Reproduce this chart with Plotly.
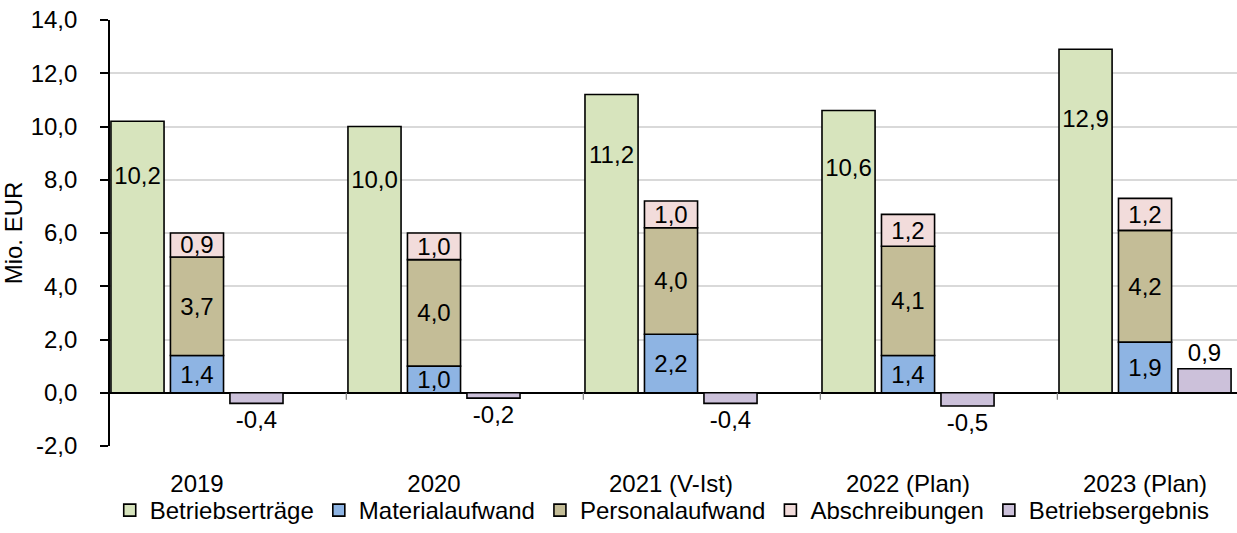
import plotly.graph_objects as go
import numpy as np

categories = ["2019", "2020", "2021 (V-Ist)", "2022 (Plan)", "2023 (Plan)"]
betriebsertraege = [10.2, 10.0, 11.2, 10.6, 12.9]
materialaufwand = [1.4, 1.0, 2.2, 1.4, 1.9]
personalaufwand = [3.7, 4.0, 4.0, 4.1, 4.2]
abschreibungen = [0.9, 1.0, 1.0, 1.2, 1.2]
betriebsergebnis = [-0.4, -0.2, -0.4, -0.5, 0.9]
y_ticks = [-2, 0, 2, 4, 6, 8, 10, 12, 14]


def fmt(v):
    return f"{v:.1f}".replace(".", ",")


FONT = "Liberation Sans, Arial, sans-serif"
FS = 24
idx = np.arange(len(categories))
W = 0.224
OFF_G, OFF_S, OFF_P = -0.363, -0.112, 0.139
LINE = dict(color="black", width=1.6)
XR = [-0.367, 4.388]
YR = [-2, 14]

mat = np.array(materialaufwand)
per = np.array(personalaufwand)

fig = go.Figure()
fig.add_trace(go.Bar(name="Betriebserträge", x=idx, y=betriebsertraege, width=W, offset=OFF_G,
                     marker=dict(color="#D7E4BD", line=LINE), hoverinfo="y"))
fig.add_trace(go.Bar(name="Materialaufwand", x=idx, y=materialaufwand, width=W, offset=OFF_S,
                     marker=dict(color="#8EB4E3", line=LINE),
                     text=[fmt(v) for v in materialaufwand], textposition="inside",
                     insidetextanchor="middle"))
fig.add_trace(go.Bar(name="Personalaufwand", x=idx, y=personalaufwand, base=mat, width=W, offset=OFF_S,
                     marker=dict(color="#C4BD97", line=LINE),
                     text=[fmt(v) for v in personalaufwand], textposition="inside",
                     insidetextanchor="middle"))
fig.add_trace(go.Bar(name="Abschreibungen", x=idx, y=abschreibungen, base=mat + per, width=W, offset=OFF_S,
                     marker=dict(color="#F2DCDB", line=LINE),
                     text=[fmt(v) for v in abschreibungen], textposition="inside",
                     insidetextanchor="middle"))
fig.add_trace(go.Bar(name="Betriebsergebnis", x=idx, y=betriebsergebnis, width=W, offset=OFF_P,
                     marker=dict(color="#CCC1DA", line=LINE),
                     text=[fmt(v) for v in betriebsergebnis], textposition="outside",
                     cliponaxis=False))
# labels of Betriebserträge placed in the upper part of the bars
fig.add_trace(go.Scatter(x=idx + OFF_G + W / 2, y=np.array(betriebsertraege) * 0.79,
                         mode="text", text=[fmt(v) for v in betriebsertraege],
                         textfont=dict(size=FS, color="black", family=FONT),
                         showlegend=False, hoverinfo="skip"))

fig.update_traces(selector=dict(type="bar"), textfont=dict(size=FS, color="black", family=FONT))

# small category separator ticks hanging below the zero line
for i in idx[:-1]:
    fig.add_shape(type="line", xref="x", yref="y", ysizemode="pixel", yanchor=0,
                  x0=float(i) + 0.63, x1=float(i) + 0.63, y0=0, y1=-7,
                  line=dict(color="#7F7F7F", width=1.2), layer="above")

fig.update_layout(
    width=1237, height=533,
    margin=dict(l=110, r=0, t=20, b=87, autoexpand=False),
    paper_bgcolor="white", plot_bgcolor="white",
    font=dict(family=FONT, size=FS, color="black"),
    barmode="overlay",
    uniformtext=dict(minsize=FS, mode="show"),
    showlegend=True,
    legend=dict(orientation="h", x=0.49, xanchor="center",
                yref="container", y=0, yanchor="bottom", bgcolor="rgba(0,0,0,0)",
                font=dict(size=FS), itemwidth=30, traceorder="normal"),
    xaxis=dict(range=XR, tickvals=list(idx), ticktext=categories, showgrid=False,
               zeroline=False, showline=False, ticks="", ticklabelstandoff=21,
               automargin=False),
    yaxis=dict(range=YR, tickvals=y_ticks, ticktext=[fmt(v) for v in y_ticks],
               showgrid=True, gridcolor="#D9D9D9", gridwidth=1.5,
               zeroline=True, zerolinecolor="black", zerolinewidth=1.6,
               showline=True, linecolor="black", linewidth=1.6,
               ticks="outside", ticklen=8, tickcolor="black", tickwidth=1.6,
               ticklabelstandoff=18, automargin=True,
               title=dict(text="Mio. EUR", standoff=1, font=dict(size=FS))),
)

fig.write_html("out.html", config={"displayModeBar": False},
               post_script="document.body.style.margin='0';document.body.style.overflow='hidden';")
